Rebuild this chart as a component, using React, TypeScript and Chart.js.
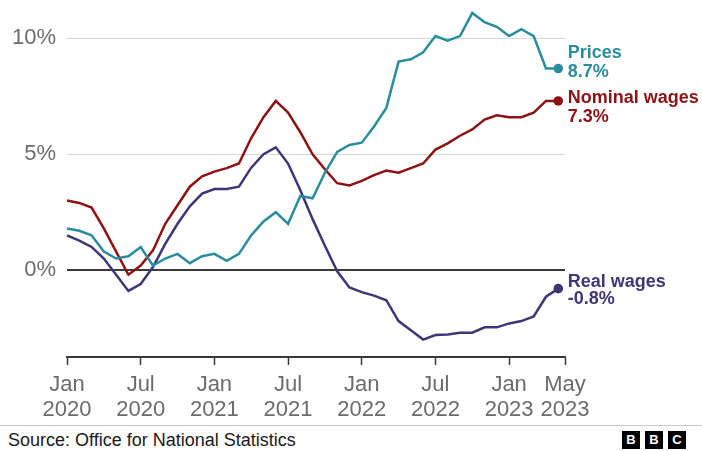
import React, { useEffect, useRef } from "react";
import { Chart, registerables } from "chart.js";

Chart.register(...registerables);

// ---- Data ----
const months = [
  "Jan 2020", "Feb 2020", "Mar 2020", "Apr 2020", "May 2020", "Jun 2020",
  "Jul 2020", "Aug 2020", "Sep 2020", "Oct 2020", "Nov 2020", "Dec 2020",
  "Jan 2021", "Feb 2021", "Mar 2021", "Apr 2021", "May 2021", "Jun 2021",
  "Jul 2021", "Aug 2021", "Sep 2021", "Oct 2021", "Nov 2021", "Dec 2021",
  "Jan 2022", "Feb 2022", "Mar 2022", "Apr 2022", "May 2022", "Jun 2022",
  "Jul 2022", "Aug 2022", "Sep 2022", "Oct 2022", "Nov 2022", "Dec 2022",
  "Jan 2023", "Feb 2023", "Mar 2023", "Apr 2023", "May 2023",
];

const prices = [
  1.8, 1.7, 1.5, 0.8, 0.5, 0.6, 1.0, 0.2, 0.5, 0.7, 0.3, 0.6,
  0.7, 0.4, 0.7, 1.5, 2.1, 2.5, 2.0, 3.2, 3.1, 4.2, 5.1, 5.4,
  5.5, 6.2, 7.0, 9.0, 9.1, 9.4, 10.1, 9.9, 10.1, 11.1, 10.7, 10.5,
  10.1, 10.4, 10.1, 8.7, 8.7,
];

const nominalWages = [
  3.0, 2.9, 2.7, 1.8, 0.8, -0.2, 0.2, 0.85, 2.0, 2.8, 3.6, 4.05,
  4.25, 4.4, 4.6, 5.7, 6.6, 7.3, 6.8, 5.95, 5.0, 4.35, 3.75, 3.65,
  3.85, 4.1, 4.3, 4.2, 4.4, 4.6, 5.2, 5.47, 5.8, 6.07, 6.5, 6.68,
  6.6, 6.6, 6.8, 7.3, 7.3,
];

const realWages = [
  1.5, 1.27, 1.0, 0.5, -0.2, -0.9, -0.6, 0.13, 1.13, 2.0, 2.75, 3.3,
  3.5, 3.5, 3.6, 4.42, 5.0, 5.3, 4.6, 3.45, 2.2, 1.05, -0.05, -0.75,
  -0.95, -1.1, -1.3, -2.2, -2.6, -3.0, -2.8, -2.78, -2.7, -2.7, -2.47, -2.47,
  -2.3, -2.2, -2.0, -1.15, -0.8,
];

const seriesNames = ["Prices", "Nominal wages", "Real wages"];
const seriesColors = ["#2a8d9e", "#8e1214", "#3d3776"];

const xTickMonths = ["Jan 2020", "Jul 2020", "Jan 2021", "Jul 2021", "Jan 2022", "Jul 2022", "Jan 2023", "May 2023"];
const yTickValues = [0, 5, 10];
const yTickLabels = ["0%", "5%", "10%"];

// ---- Layout (not data) ----
const X_AXIS_END = 40.55; // axis runs slightly past last month
const Y_MIN = -3.75;
const Y_MAX = 11.45;
const labelOffsets = [
  { dy1: -15.5, dy2: 4 },
  { dy1: -2.5, dy2: 16 },
  { dy1: -7, dy2: 10.5 },
];

const FONT = "'Liberation Sans', Arial, sans-serif";

const endLabelPlugin = {
  id: "endLabels",
  afterDatasetsDraw(chart: any) {
    const ctx = chart.ctx;
    chart.data.datasets.forEach((ds: any, i: number) => {
      const meta = chart.getDatasetMeta(i);
      const pt = meta.data[meta.data.length - 1];
      const last = ds.data[ds.data.length - 1].y;
      const off = labelOffsets[i];
      ctx.save();
      ctx.fillStyle = ds.borderColor;
      ctx.font = `bold 18px ${FONT}`;
      ctx.textBaseline = "middle";
      ctx.textAlign = "left";
      ctx.fillText(seriesNames[i], pt.x + 9.5, pt.y + off.dy1);
      ctx.fillText(`${last.toFixed(1)}%`, pt.x + 9.5, pt.y + off.dy2);
      ctx.restore();
    });
  },
};

export default function App() {
  const canvasRef = useRef<HTMLCanvasElement | null>(null);

  useEffect(() => {
    if (!canvasRef.current) return;
    const toPoints = (arr: number[]) => arr.map((v, i) => ({ x: i, y: v }));
    const seriesData = [prices, nominalWages, realWages];
    const lastIdx = months.length - 1;

    const chart = new Chart(canvasRef.current, {
      type: "line",
      data: {
        datasets: seriesData.map((d, i) => ({
          label: seriesNames[i],
          data: toPoints(d),
          borderColor: seriesColors[i],
          backgroundColor: seriesColors[i],
          borderWidth: 2.5,
          tension: 0,
          pointRadius: (c: any) => (c.dataIndex === lastIdx ? 4.8 : 0),
          pointBorderWidth: 0,
          pointBackgroundColor: seriesColors[i],
          pointHoverRadius: 0,
          clip: false as any,
        })),
      },
      options: {
        animation: false,
        responsive: false,
        devicePixelRatio: 1,
        events: [],
        layout: { padding: { left: 0, right: 137, top: 2, bottom: 0 } },
        plugins: {
          legend: { display: false },
          tooltip: { enabled: false },
        },
        scales: {
          x: {
            type: "linear",
            min: 0,
            max: X_AXIS_END,
            afterBuildTicks: (scale: any) => {
              scale.ticks = xTickMonths.map((m) => {
                const idx = months.indexOf(m);
                return { value: idx === lastIdx ? X_AXIS_END : idx };
              });
            },
            afterFit: (scale: any) => {
              scale.height = 63;
              scale.paddingLeft = 0;
              scale.paddingRight = 0;
            },
            grid: {
              display: true,
              drawOnChartArea: false,
              drawTicks: true,
              tickLength: 8,
              tickWidth: 1.5,
              tickColor: "#3a3a3a",
            },
            border: { display: true, color: "#3a3a3a", width: 2 },
            ticks: {
              autoSkip: false,
              maxRotation: 0,
              padding: 7,
              color: "#6b6b6b",
              font: { family: FONT, size: 22, lineHeight: 25 / 22 },
              callback: (_v: any, index: number) => xTickMonths[index].split(" "),
            },
          },
          y: {
            type: "linear",
            min: Y_MIN,
            max: Y_MAX,
            afterBuildTicks: (scale: any) => {
              scale.ticks = yTickValues.map((v) => ({ value: v }));
            },
            afterFit: (scale: any) => {
              scale.width = 67;
              scale.paddingTop = 0;
              scale.paddingBottom = 0;
            },
            grid: {
              drawTicks: false,
              color: (c: any) => (c.tick && c.tick.value === 0 ? "#3a3a3a" : "#d6d6d6"),
              lineWidth: (c: any) => (c.tick && c.tick.value === 0 ? 2 : 1),
            },
            border: { display: false },
            ticks: {
              padding: 11,
              color: "#6b6b6b",
              font: { family: FONT, size: 22 },
              callback: (_v: any, index: number) => yTickLabels[index],
            },
          },
        },
      },
      plugins: [endLabelPlugin],
    } as any);

    return () => chart.destroy();
  }, []);

  return (
    <div
      style={{
        position: "absolute",
        left: 0,
        top: 0,
        width: 702,
        height: 451,
        background: "#fff",
        overflow: "hidden",
        fontFamily: FONT,
      }}
    >
      <canvas ref={canvasRef} width={702} height={420} style={{ display: "block", width: 702, height: 420 }} />
      <div
        style={{
          position: "absolute",
          left: 0,
          top: 425,
          width: 702,
          height: 1,
          background: "#c8c8c8",
        }}
      />
      <div
        style={{
          position: "absolute",
          left: 8,
          top: 429,
          fontSize: 18,
          lineHeight: "22px",
          color: "#1a1a1a",
        }}
      >
        Source: Office for National Statistics
      </div>
      <div style={{ position: "absolute", left: 622, top: 431, display: "flex", gap: 5 }}>
        {["B", "B", "C"].map((ch, i) => (
          <div
            key={i}
            style={{
              width: 18,
              height: 18,
              background: "#000",
              color: "#fff",
              fontWeight: "bold",
              fontSize: 13,
              lineHeight: "18px",
              textAlign: "center",
            }}
          >
            {ch}
          </div>
        ))}
      </div>
    </div>
  );
}
